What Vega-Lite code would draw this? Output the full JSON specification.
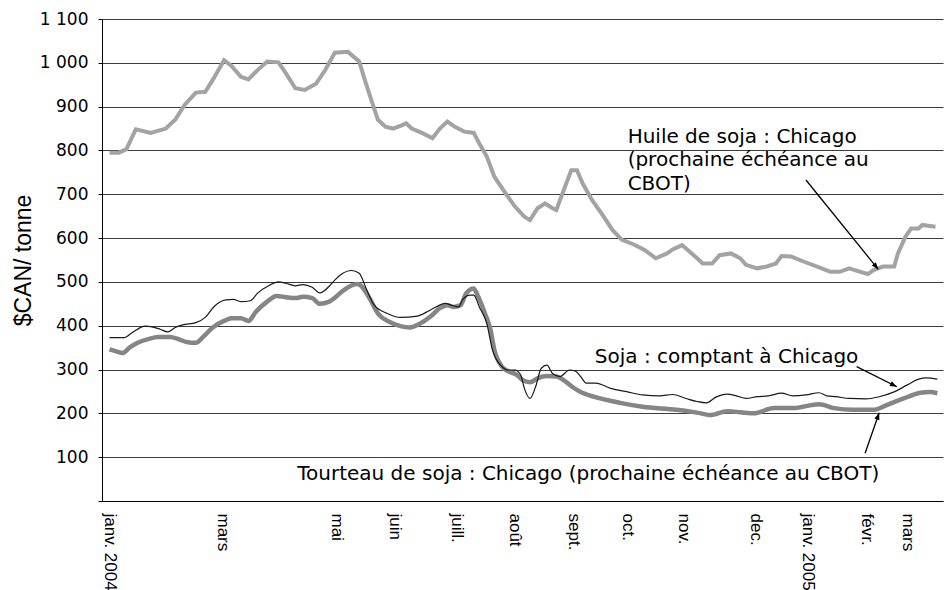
{
  "$schema": "https://vega.github.io/schema/vega-lite/v6.json",
  "width": 841,
  "height": 482,
  "autosize": {"type": "none"},
  "padding": {"left": 102, "top": 19, "right": 8, "bottom": 89},
  "background": "white",
  "config": {"view": {"stroke": null}},
  "datasets": {
    "huile": [
      {"date": "2004-01-01", "valeur": 795}, {"date": "2004-01-06", "valeur": 795}, {"date": "2004-01-10", "valeur": 803},
      {"date": "2004-01-15", "valeur": 848}, {"date": "2004-01-23", "valeur": 840}, {"date": "2004-01-31", "valeur": 850},
      {"date": "2004-02-05", "valeur": 870}, {"date": "2004-02-10", "valeur": 904}, {"date": "2004-02-16", "valeur": 932},
      {"date": "2004-02-21", "valeur": 934}, {"date": "2004-02-25", "valeur": 961}, {"date": "2004-03-02", "valeur": 1006},
      {"date": "2004-03-06", "valeur": 993}, {"date": "2004-03-11", "valeur": 968}, {"date": "2004-03-15", "valeur": 962},
      {"date": "2004-03-20", "valeur": 984}, {"date": "2004-03-25", "valeur": 1003}, {"date": "2004-03-31", "valeur": 1001},
      {"date": "2004-04-04", "valeur": 976}, {"date": "2004-04-09", "valeur": 942}, {"date": "2004-04-14", "valeur": 938},
      {"date": "2004-04-20", "valeur": 952}, {"date": "2004-04-25", "valeur": 984}, {"date": "2004-04-30", "valeur": 1023},
      {"date": "2004-05-07", "valeur": 1025}, {"date": "2004-05-13", "valeur": 1003}, {"date": "2004-05-16", "valeur": 961},
      {"date": "2004-05-20", "valeur": 908}, {"date": "2004-05-23", "valeur": 870}, {"date": "2004-05-27", "valeur": 854},
      {"date": "2004-05-31", "valeur": 850}, {"date": "2004-06-05", "valeur": 858}, {"date": "2004-06-07", "valeur": 862},
      {"date": "2004-06-10", "valeur": 850}, {"date": "2004-06-16", "valeur": 839}, {"date": "2004-06-21", "valeur": 828},
      {"date": "2004-06-25", "valeur": 850}, {"date": "2004-06-29", "valeur": 866}, {"date": "2004-07-03", "valeur": 854},
      {"date": "2004-07-08", "valeur": 843}, {"date": "2004-07-13", "valeur": 840}, {"date": "2004-07-16", "valeur": 816},
      {"date": "2004-07-20", "valeur": 786}, {"date": "2004-07-24", "valeur": 740}, {"date": "2004-07-30", "valeur": 702},
      {"date": "2004-08-04", "valeur": 672}, {"date": "2004-08-09", "valeur": 649}, {"date": "2004-08-12", "valeur": 641},
      {"date": "2004-08-16", "valeur": 668}, {"date": "2004-08-20", "valeur": 679}, {"date": "2004-08-24", "valeur": 668},
      {"date": "2004-08-26", "valeur": 664}, {"date": "2004-08-30", "valeur": 710}, {"date": "2004-09-03", "valeur": 755},
      {"date": "2004-09-06", "valeur": 755}, {"date": "2004-09-09", "valeur": 725}, {"date": "2004-09-14", "valeur": 687},
      {"date": "2004-09-19", "valeur": 657}, {"date": "2004-09-25", "valeur": 618}, {"date": "2004-09-30", "valeur": 596},
      {"date": "2004-10-06", "valeur": 586}, {"date": "2004-10-12", "valeur": 573}, {"date": "2004-10-18", "valeur": 554},
      {"date": "2004-10-24", "valeur": 565}, {"date": "2004-10-27", "valeur": 574}, {"date": "2004-11-01", "valeur": 584},
      {"date": "2004-11-04", "valeur": 573}, {"date": "2004-11-09", "valeur": 554}, {"date": "2004-11-12", "valeur": 542},
      {"date": "2004-11-17", "valeur": 542}, {"date": "2004-11-21", "valeur": 561}, {"date": "2004-11-27", "valeur": 565},
      {"date": "2004-12-02", "valeur": 554}, {"date": "2004-12-05", "valeur": 539}, {"date": "2004-12-11", "valeur": 531},
      {"date": "2004-12-16", "valeur": 535}, {"date": "2004-12-21", "valeur": 542}, {"date": "2004-12-24", "valeur": 559},
      {"date": "2004-12-29", "valeur": 558}, {"date": "2005-01-05", "valeur": 546}, {"date": "2005-01-12", "valeur": 535},
      {"date": "2005-01-19", "valeur": 523}, {"date": "2005-01-24", "valeur": 523}, {"date": "2005-01-29", "valeur": 531},
      {"date": "2005-02-04", "valeur": 523}, {"date": "2005-02-08", "valeur": 518}, {"date": "2005-02-11", "valeur": 527},
      {"date": "2005-02-16", "valeur": 535}, {"date": "2005-02-22", "valeur": 535}, {"date": "2005-02-24", "valeur": 565},
      {"date": "2005-02-28", "valeur": 603}, {"date": "2005-03-03", "valeur": 622}, {"date": "2005-03-07", "valeur": 622},
      {"date": "2005-03-09", "valeur": 630}, {"date": "2005-03-16", "valeur": 626}
    ],
    "soja": [
      {"date": "2004-01-01", "valeur": 373}, {"date": "2004-01-09", "valeur": 373}, {"date": "2004-01-13", "valeur": 384},
      {"date": "2004-01-20", "valeur": 399}, {"date": "2004-01-23", "valeur": 398}, {"date": "2004-01-28", "valeur": 392},
      {"date": "2004-02-01", "valeur": 386}, {"date": "2004-02-05", "valeur": 396}, {"date": "2004-02-09", "valeur": 402},
      {"date": "2004-02-16", "valeur": 407}, {"date": "2004-02-21", "valeur": 419}, {"date": "2004-02-26", "valeur": 445},
      {"date": "2004-03-03", "valeur": 459}, {"date": "2004-03-07", "valeur": 460}, {"date": "2004-03-11", "valeur": 455},
      {"date": "2004-03-16", "valeur": 457}, {"date": "2004-03-20", "valeur": 475}, {"date": "2004-03-26", "valeur": 492},
      {"date": "2004-03-31", "valeur": 500}, {"date": "2004-04-04", "valeur": 497}, {"date": "2004-04-09", "valeur": 491},
      {"date": "2004-04-13", "valeur": 494}, {"date": "2004-04-18", "valeur": 488}, {"date": "2004-04-22", "valeur": 475},
      {"date": "2004-04-27", "valeur": 490}, {"date": "2004-04-30", "valeur": 504}, {"date": "2004-05-03", "valeur": 516},
      {"date": "2004-05-09", "valeur": 526}, {"date": "2004-05-13", "valeur": 520}, {"date": "2004-05-17", "valeur": 482},
      {"date": "2004-05-21", "valeur": 447}, {"date": "2004-05-28", "valeur": 428}, {"date": "2004-06-04", "valeur": 419},
      {"date": "2004-06-13", "valeur": 422}, {"date": "2004-06-20", "valeur": 436}, {"date": "2004-06-28", "valeur": 451},
      {"date": "2004-07-01", "valeur": 447}, {"date": "2004-07-05", "valeur": 443}, {"date": "2004-07-07", "valeur": 459},
      {"date": "2004-07-11", "valeur": 470}, {"date": "2004-07-13", "valeur": 470}, {"date": "2004-07-16", "valeur": 443},
      {"date": "2004-07-20", "valeur": 405}, {"date": "2004-07-23", "valeur": 345}, {"date": "2004-07-28", "valeur": 307},
      {"date": "2004-07-31", "valeur": 299}, {"date": "2004-08-04", "valeur": 299}, {"date": "2004-08-07", "valeur": 288},
      {"date": "2004-08-09", "valeur": 257}, {"date": "2004-08-12", "valeur": 234}, {"date": "2004-08-15", "valeur": 261},
      {"date": "2004-08-18", "valeur": 303}, {"date": "2004-08-21", "valeur": 310}, {"date": "2004-08-24", "valeur": 291},
      {"date": "2004-08-28", "valeur": 284}, {"date": "2004-09-02", "valeur": 299}, {"date": "2004-09-05", "valeur": 297},
      {"date": "2004-09-08", "valeur": 284}, {"date": "2004-09-11", "valeur": 269}, {"date": "2004-09-16", "valeur": 269},
      {"date": "2004-09-24", "valeur": 257}, {"date": "2004-10-03", "valeur": 249}, {"date": "2004-10-11", "valeur": 242},
      {"date": "2004-10-20", "valeur": 240}, {"date": "2004-10-27", "valeur": 243}, {"date": "2004-11-03", "valeur": 234},
      {"date": "2004-11-09", "valeur": 227}, {"date": "2004-11-14", "valeur": 224}, {"date": "2004-11-19", "valeur": 237},
      {"date": "2004-11-25", "valeur": 244}, {"date": "2004-11-30", "valeur": 240}, {"date": "2004-12-05", "valeur": 234},
      {"date": "2004-12-11", "valeur": 238}, {"date": "2004-12-17", "valeur": 240}, {"date": "2004-12-24", "valeur": 246},
      {"date": "2004-12-30", "valeur": 240}, {"date": "2005-01-06", "valeur": 242}, {"date": "2005-01-13", "valeur": 247},
      {"date": "2005-01-17", "valeur": 240}, {"date": "2005-01-22", "valeur": 238}, {"date": "2005-01-29", "valeur": 234},
      {"date": "2005-02-07", "valeur": 233}, {"date": "2005-02-14", "valeur": 238}, {"date": "2005-02-22", "valeur": 249},
      {"date": "2005-03-01", "valeur": 265}, {"date": "2005-03-07", "valeur": 278}, {"date": "2005-03-11", "valeur": 281},
      {"date": "2005-03-17", "valeur": 278}
    ],
    "tourteau": [
      {"date": "2004-01-01", "valeur": 346}, {"date": "2004-01-05", "valeur": 341}, {"date": "2004-01-08", "valeur": 338},
      {"date": "2004-01-12", "valeur": 351}, {"date": "2004-01-16", "valeur": 361}, {"date": "2004-01-22", "valeur": 370},
      {"date": "2004-01-27", "valeur": 374}, {"date": "2004-02-02", "valeur": 374}, {"date": "2004-02-07", "valeur": 369},
      {"date": "2004-02-11", "valeur": 363}, {"date": "2004-02-16", "valeur": 361}, {"date": "2004-02-20", "valeur": 375},
      {"date": "2004-02-25", "valeur": 396}, {"date": "2004-03-02", "valeur": 411}, {"date": "2004-03-06", "valeur": 417},
      {"date": "2004-03-11", "valeur": 417}, {"date": "2004-03-15", "valeur": 411}, {"date": "2004-03-19", "valeur": 432},
      {"date": "2004-03-25", "valeur": 455}, {"date": "2004-03-30", "valeur": 468}, {"date": "2004-04-04", "valeur": 465},
      {"date": "2004-04-09", "valeur": 463}, {"date": "2004-04-13", "valeur": 466}, {"date": "2004-04-18", "valeur": 463},
      {"date": "2004-04-22", "valeur": 450}, {"date": "2004-04-27", "valeur": 455}, {"date": "2004-04-30", "valeur": 464},
      {"date": "2004-05-05", "valeur": 482}, {"date": "2004-05-12", "valeur": 495}, {"date": "2004-05-14", "valeur": 491},
      {"date": "2004-05-19", "valeur": 459}, {"date": "2004-05-23", "valeur": 428}, {"date": "2004-05-29", "valeur": 409},
      {"date": "2004-06-04", "valeur": 399}, {"date": "2004-06-09", "valeur": 396}, {"date": "2004-06-14", "valeur": 404},
      {"date": "2004-06-20", "valeur": 421}, {"date": "2004-06-25", "valeur": 440}, {"date": "2004-06-29", "valeur": 447},
      {"date": "2004-07-02", "valeur": 443}, {"date": "2004-07-06", "valeur": 447}, {"date": "2004-07-09", "valeur": 474},
      {"date": "2004-07-13", "valeur": 485}, {"date": "2004-07-15", "valeur": 470}, {"date": "2004-07-19", "valeur": 428},
      {"date": "2004-07-22", "valeur": 390}, {"date": "2004-07-24", "valeur": 345}, {"date": "2004-07-28", "valeur": 307},
      {"date": "2004-08-01", "valeur": 295}, {"date": "2004-08-05", "valeur": 288}, {"date": "2004-08-08", "valeur": 276},
      {"date": "2004-08-12", "valeur": 271}, {"date": "2004-08-16", "valeur": 280}, {"date": "2004-08-21", "valeur": 285},
      {"date": "2004-08-26", "valeur": 284}, {"date": "2004-09-01", "valeur": 269}, {"date": "2004-09-04", "valeur": 259},
      {"date": "2004-09-08", "valeur": 249}, {"date": "2004-09-15", "valeur": 238}, {"date": "2004-09-29", "valeur": 224},
      {"date": "2004-10-11", "valeur": 215}, {"date": "2004-10-29", "valeur": 208}, {"date": "2004-11-11", "valeur": 200},
      {"date": "2004-11-16", "valeur": 196}, {"date": "2004-11-25", "valeur": 205}, {"date": "2004-12-09", "valeur": 200},
      {"date": "2004-12-20", "valeur": 212}, {"date": "2004-12-30", "valeur": 212}, {"date": "2005-01-13", "valeur": 221},
      {"date": "2005-01-21", "valeur": 212}, {"date": "2005-01-31", "valeur": 208}, {"date": "2005-02-11", "valeur": 208},
      {"date": "2005-02-18", "valeur": 219}, {"date": "2005-02-27", "valeur": 234}, {"date": "2005-03-08", "valeur": 247},
      {"date": "2005-03-13", "valeur": 249}, {"date": "2005-03-17", "valeur": 246}
    ],
    "annotations": [
      {"texte": "Huile de soja : Chicago\n(prochaine échéance au\nCBOT)", "date": "2004-10-03", "valeur": 817},
      {"texte": "Soja : comptant à Chicago", "date": "2004-09-15T12:00:00Z", "valeur": 314},
      {"texte": "Tourteau de soja : Chicago (prochaine échéance au CBOT)", "date": "2004-04-10", "valeur": 48}
    ],
    "fleches": [
      {"fleche": "huile", "date": "2005-01-06", "valeur": 732.6, "date2": "2005-02-13T12:00:00Z", "valeur2": 528.8},
      {"fleche": "soja", "date": "2005-02-02", "valeur": 306.5, "date2": "2005-02-23T10:00:00Z", "valeur2": 260.8},
      {"fleche": "tourteau", "date": "2005-02-06T12:00:00Z", "valeur": 108.9, "date2": "2005-02-14", "valeur2": 201.5}
    ]
  },
  "encoding": {
    "x": {
      "field": "date",
      "type": "temporal",
      "title": null,
      "scale": {
        "type": "utc",
        "domain": [
          {"year": 2003, "month": 12, "date": 28, "utc": true},
          {"year": 2005, "month": 3, "date": 20, "utc": true}
        ]
      },
      "axis": {
        "values": [
          {"year": 2004, "month": 1, "date": 1, "utc": true},
          {"year": 2004, "month": 3, "date": 1, "utc": true},
          {"year": 2004, "month": 5, "date": 1, "utc": true},
          {"year": 2004, "month": 6, "date": 1, "utc": true},
          {"year": 2004, "month": 7, "date": 4, "utc": true},
          {"year": 2004, "month": 8, "date": 4, "utc": true},
          {"year": 2004, "month": 9, "date": 4, "utc": true},
          {"year": 2004, "month": 10, "date": 3, "utc": true},
          {"year": 2004, "month": 11, "date": 2, "utc": true},
          {"year": 2004, "month": 12, "date": 10, "utc": true},
          {"year": 2005, "month": 1, "date": 7, "utc": true},
          {"year": 2005, "month": 2, "date": 7, "utc": true},
          {"year": 2005, "month": 3, "date": 1, "utc": true}
        ],
        "labelExpr": "['janv.', 'févr.', 'mars', 'avr.', 'mai', 'juin', 'juill.', 'août', 'sept.', 'oct.', 'nov.', 'dec.'][utcmonth(datum.value)] + (utcmonth(datum.value) == 0 ? ' ' + utcyear(datum.value) : '')",
        "grid": false,
        "ticks": false,
        "tickSize": 0,
        "domainColor": "#000000",
        "domainWidth": 1,
        "labelAngle": 90,
        "labelFont": "Liberation Sans",
        "labelFontSize": 17,
        "labelColor": "#000000",
        "labelPadding": 12,
        "labelOverlap": false,
        "labelFlush": false,
        "labelBound": false
      }
    },
    "y": {
      "field": "valeur",
      "type": "quantitative",
      "title": "$CAN/ tonne",
      "scale": {"domain": [0, 1100], "nice": false, "zero": true},
      "axis": {
        "values": [0, 100, 200, 300, 400, 500, 600, 700, 800, 900, 1000, 1100],
        "labelExpr": "datum.value == 0 ? '' : replace(format(datum.value, ','), ',', ' ')",
        "grid": true,
        "gridColor": "#3c3c3c",
        "gridWidth": 1,
        "domainColor": "#000000",
        "tickColor": "#000000",
        "tickSize": 4,
        "labelFont": "DejaVu Sans",
        "labelFontSize": 17,
        "labelColor": "#000000",
        "labelPadding": 10,
        "titleFont": "Liberation Sans",
        "titleFontSize": 23,
        "titleFontWeight": "normal",
        "titleColor": "#000000",
        "titlePadding": 4
      }
    }
  },
  "layer": [
    {
      "data": {"name": "huile"},
      "mark": {"type": "line", "color": "#a3a3a3", "strokeWidth": 4, "strokeJoin": "miter"}
    },
    {
      "data": {"name": "tourteau"},
      "mark": {"type": "line", "color": "#858585", "strokeWidth": 4.5, "interpolate": "monotone"}
    },
    {
      "data": {"name": "soja"},
      "mark": {"type": "line", "color": "#1a1a1a", "strokeWidth": 1.2, "interpolate": "monotone"}
    },
    {
      "data": {"name": "annotations"},
      "mark": {"type": "text", "align": "left", "baseline": "alphabetic", "font": "DejaVu Sans", "fontSize": 20, "color": "#000000", "lineBreak": "\n", "lineHeight": 23.4},
      "encoding": {"text": {"field": "texte"}}
    },
    {
      "data": {"name": "fleches"},
      "mark": {"type": "rule", "color": "#000000", "strokeWidth": 1.3},
      "encoding": {
        "x2": {"field": "date2"},
        "y2": {"field": "valeur2"}
      }
    },
    {
      "data": {"name": "fleches"},
      "transform": [{"filter": "datum.fleche == 'huile'"}],
      "mark": {"type": "point", "shape": "M0,0L-0.75,2L0.75,2Z", "filled": true, "color": "#000000", "size": 49, "angle": 141, "opacity": 1},
      "encoding": {
        "x": {"field": "date2", "type": "temporal"},
        "y": {"field": "valeur2", "type": "quantitative"}
      }
    },
    {
      "data": {"name": "fleches"},
      "transform": [{"filter": "datum.fleche == 'soja'"}],
      "mark": {"type": "point", "shape": "M0,0L-0.75,2L0.75,2Z", "filled": true, "color": "#000000", "size": 49, "angle": 117, "opacity": 1},
      "encoding": {
        "x": {"field": "date2", "type": "temporal"},
        "y": {"field": "valeur2", "type": "quantitative"}
      }
    },
    {
      "data": {"name": "fleches"},
      "transform": [{"filter": "datum.fleche == 'tourteau'"}],
      "mark": {"type": "point", "shape": "M0,0L-0.75,2L0.75,2Z", "filled": true, "color": "#000000", "size": 49, "angle": 19, "opacity": 1},
      "encoding": {
        "x": {"field": "date2", "type": "temporal"},
        "y": {"field": "valeur2", "type": "quantitative"}
      }
    }
  ]
}
